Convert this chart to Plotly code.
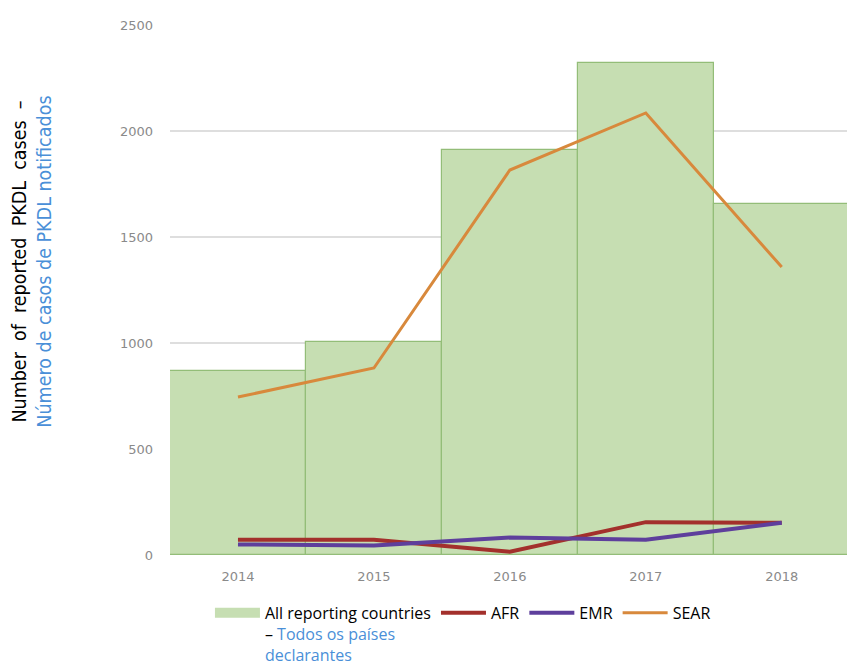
import plotly.graph_objects as go

# Reported PKDL cases by year and WHO region
years = ["2014", "2015", "2016", "2017", "2018"]
all_countries = [868, 1005, 1910, 2321, 1656]
afr = [72, 72, 15, 155, 152]
emr = [50, 45, 82, 72, 152]
sear = [745, 882, 1816, 2085, 1358]
y_ticks = [0, 500, 1000, 1500, 2000, 2500]

BLUE = "#4a8fd8"
GREEN = "#c6deb2"
FONT = "DejaVu Sans Condensed, DejaVu Sans, sans-serif"
LEGEND_FONT = "Open Sans, DejaVu Sans Condensed, sans-serif"
TICK_FONT = dict(family="DejaVu Sans", size=13, color="#8a8a8a")
all_label = ("All reporting countries<br>– <span style='color:%s'>Todos os países</span>"
             "<br><span style='color:%s'>declarantes</span>") % (BLUE, BLUE)

fig = go.Figure()
fig.add_trace(go.Bar(
    x=years, y=all_countries, name=all_label, legendgroup="all", showlegend=False,
    marker=dict(color=GREEN, line=dict(color="#93bd78", width=1.2)),
))
# legend key for the bars: a wide green block
fig.add_trace(go.Scatter(x=[None], y=[None], mode="lines", name=all_label,
                         legendgroup="all", line=dict(color=GREEN, width=15)))
fig.add_trace(go.Scatter(x=years, y=afr, mode="lines", name="AFR",
                         line=dict(color="#a3302c", width=4)))
fig.add_trace(go.Scatter(x=years, y=emr, mode="lines", name="EMR",
                         line=dict(color="#5e3f9c", width=4)))
fig.add_trace(go.Scatter(x=years, y=sear, mode="lines", name="SEAR",
                         line=dict(color="#d8893c", width=3)))

fig.update_layout(
    width=847, height=666,
    margin=dict(l=170, r=0, t=25, b=111, autoexpand=False),
    plot_bgcolor="white", paper_bgcolor="white",
    bargap=0,
    font=dict(family=FONT, size=16, color="black"),
    showlegend=True,
    legend=dict(orientation="h", x=0.059, y=-0.077, xanchor="left", yanchor="top",
                valign="top", itemwidth=45, tracegroupgap=0,
                font=dict(family=LEGEND_FONT, size=16, color="black"),
                traceorder="normal"),
    xaxis=dict(range=[-0.5, 4.48], showgrid=False, zeroline=False, showline=False,
               tickfont=TICK_FONT, ticklabelstandoff=12),
    yaxis=dict(range=[0, 2500], tickvals=y_ticks, showgrid=True, gridcolor="#dedede",
               gridwidth=1.5, zeroline=False, showline=False,
               tickfont=TICK_FONT, ticklabelstandoff=16),
)

fig.add_annotation(xref="paper", yref="paper", x=-0.222, y=0.553,
                   text="Number  of  reported  PKDL  cases  –",
                   textangle=-90, showarrow=False, xanchor="center", yanchor="middle",
                   font=dict(family=FONT, size=19.5, color="black"))
fig.add_annotation(xref="paper", yref="paper", x=-0.185, y=0.553,
                   text="Número de casos de PKDL notificados",
                   textangle=-90, showarrow=False, xanchor="center", yanchor="middle",
                   font=dict(family=FONT, size=19.5, color=BLUE))

fig.write_html("out.html")
